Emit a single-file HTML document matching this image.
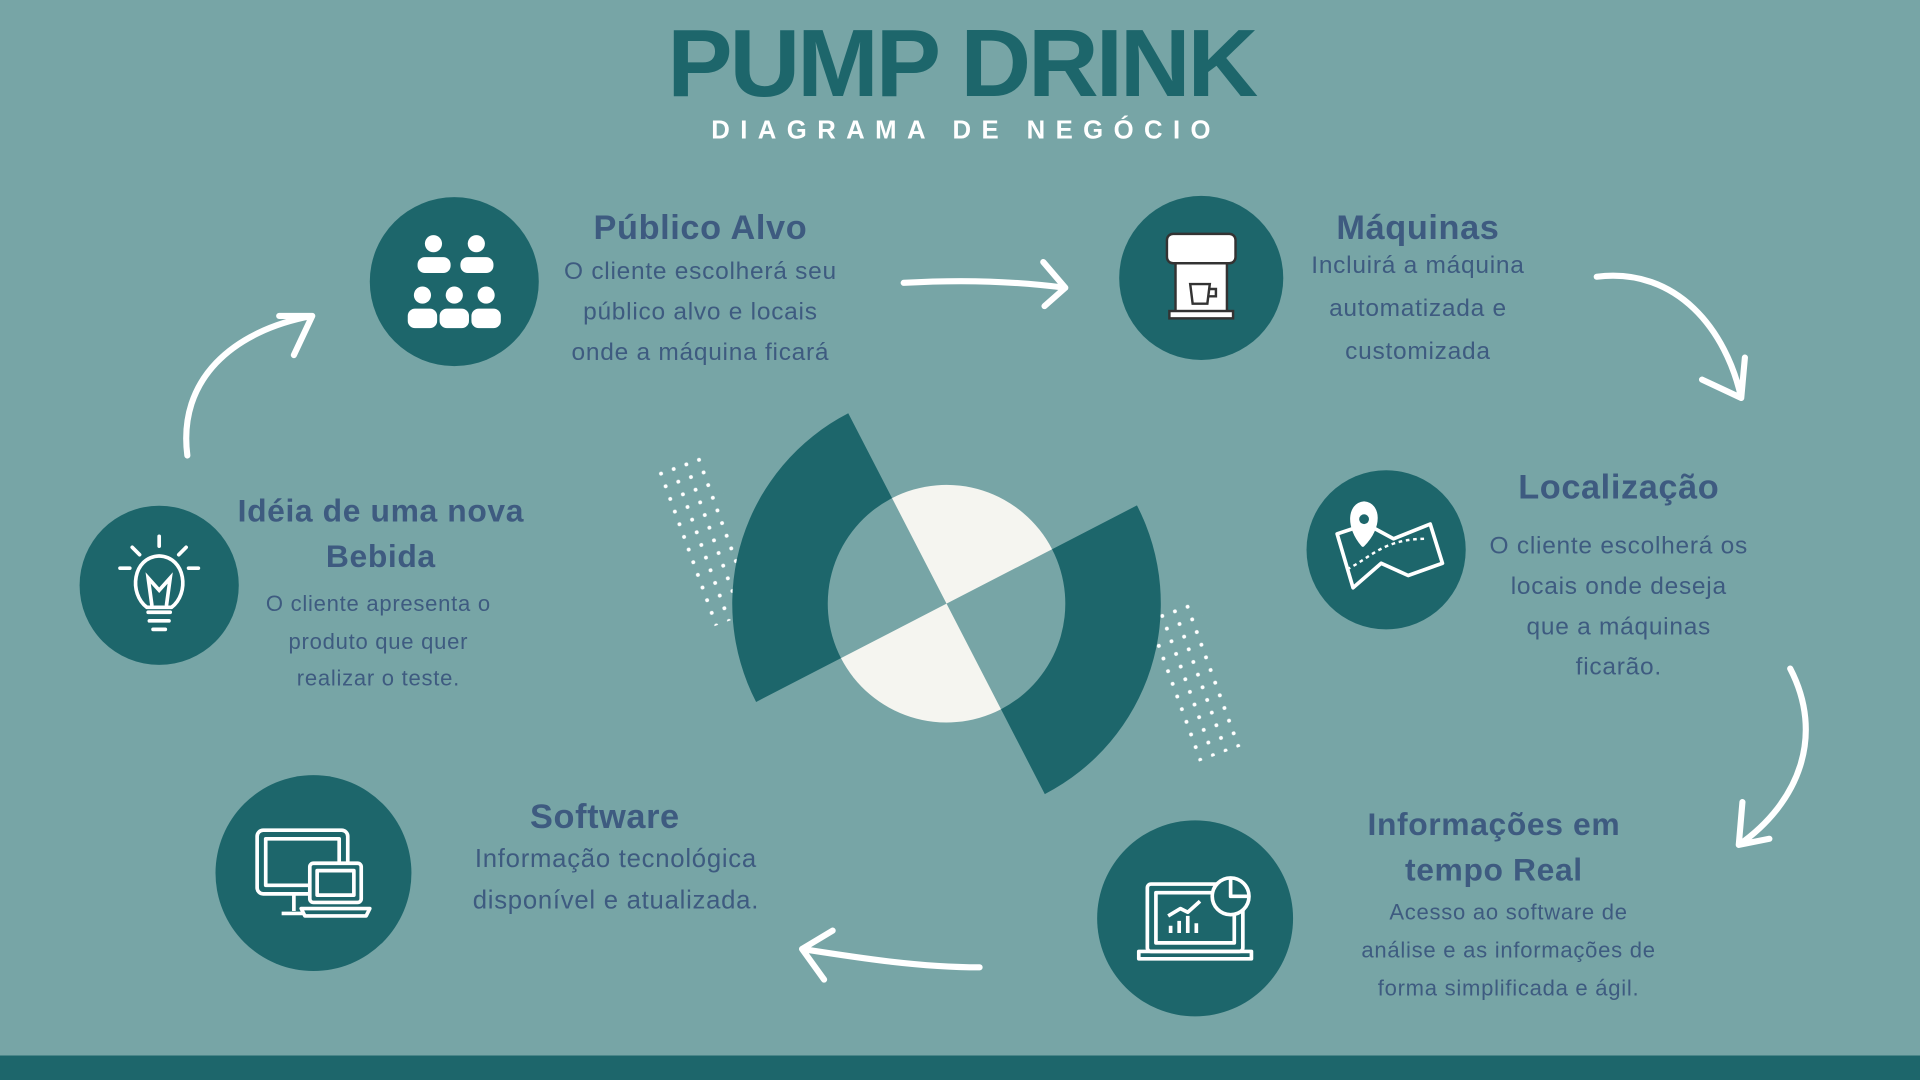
<!DOCTYPE html>
<html><head><meta charset="utf-8"><style>
html,body{margin:0;padding:0;width:1920px;height:1080px;overflow:hidden;background:#77a5a6}
#wrap{position:absolute;left:0;top:0;width:1568px;height:882px;transform:scale(1.22449);transform-origin:0 0;font-family:"Liberation Sans",sans-serif}
.t{position:absolute;text-align:center;color:#3e5b80;white-space:nowrap}
.h{font-weight:bold;font-size:28px;letter-spacing:0.5px}
.b{font-size:20px;letter-spacing:0.6px}
</style></head><body>
<div id="wrap">
<svg width="1568" height="882" style="position:absolute;left:0;top:0">
<defs>
<pattern id="dots" width="11" height="11" patternUnits="userSpaceOnUse"><circle cx="3" cy="3" r="1.6" fill="#fff"/></pattern>
</defs>
<rect x="0" y="862" width="1568" height="20" fill="#1d666b"/>
<g transform="translate(536,385) rotate(-20)"><rect x="0" y="0" width="45" height="135" fill="url(#dots)"/></g>
<g transform="translate(935,505) rotate(-20)"><rect x="0" y="0" width="45" height="125" fill="url(#dots)"/></g>
<g transform="translate(773,493) rotate(-27.3)">
<path d="M-175 0 A175 175 0 0 1 0 -175 L0 -97 A97 97 0 0 0 -97 0 Z" fill="#1d666b"/>
<path d="M175 0 A175 175 0 0 1 0 175 L0 97 A97 97 0 0 0 97 0 Z" fill="#1d666b"/>
<path d="M0 0 L0 -97 A97 97 0 0 1 97 0 Z" fill="#f5f5f0"/>
<path d="M0 0 L0 97 A97 97 0 0 1 -97 0 Z" fill="#f5f5f0"/>
</g>
<g fill="none" stroke="#fff" stroke-width="5" stroke-linecap="round" stroke-linejoin="round">
<path d="M153 372 C145 310 190 270 255 258 M228 258 L255 258 L240 290"/>
<path d="M738 231 C790 228 830 230 870 235 M852 214 L870 235 L853 250"/>
<path d="M1304 226 C1370 218 1410 270 1422 325 M1390 310 L1422 325 L1425 292"/>
<path d="M1462 546 C1490 600 1470 655 1420 690 M1423 655 L1420 690 L1445 685"/>
<path d="M800 790 C750 790 700 782 655 775 M680 760 L655 775 L673 800"/>
</g>
<g fill="#1d666b">
<circle cx="371" cy="230" r="69"/>
<circle cx="981" cy="227" r="67"/>
<circle cx="1132" cy="449" r="65"/>
<circle cx="130" cy="478" r="65"/>
<circle cx="256" cy="713" r="80"/>
<circle cx="976" cy="750" r="80"/>
</g>
<g fill="#fff">
<circle cx="354" cy="199" r="7"/><circle cx="389" cy="199" r="7"/>
<rect x="341" y="210" width="27" height="13" rx="6"/><rect x="376" y="210" width="27" height="13" rx="6"/>
<circle cx="345" cy="241" r="7"/><circle cx="371" cy="241" r="7"/><circle cx="397" cy="241" r="7"/>
<rect x="333" y="252" width="24" height="16" rx="6"/><rect x="359" y="252" width="24" height="16" rx="6"/><rect x="385" y="252" width="24" height="16" rx="6"/>
</g>
<g stroke="#333" stroke-width="2" fill="#fff">
<rect x="953" y="191" width="56" height="24" rx="5"/>
<rect x="960" y="215" width="42" height="40"/>
<rect x="955" y="254" width="52" height="6"/>
<path d="M972 232 h16 l-2 16 h-12 z M988 236 h5 v6 h-6" fill="none"/>
</g>
<g fill="none" stroke="#fff" stroke-width="3" stroke-linejoin="round">
<path d="M1092 436 L1116 428 L1138 440 L1168 428 L1178 460 L1150 470 L1128 460 L1105 480 Z"/>
<path d="M1113 445 C1100 430 1102 412 1114 411 C1126 412 1128 430 1113 445 Z" fill="#fff"/>
<circle cx="1114" cy="424" r="4" fill="#1d666b" stroke="none"/>
<path d="M1100 465 C1120 455 1130 440 1165 440" stroke-dasharray="3 3" stroke-width="2"/>
</g>
<g fill="none" stroke="#fff" stroke-width="3" stroke-linecap="round">
<path d="M120 496 C105 485 108 455 130 454 C152 455 155 485 140 496 Z"/>
<path d="M121 500 h18 M122 507 h16 M125 514 h10"/>
<path d="M130 438 v8 M108 447 l6 6 M152 447 l-6 6 M98 464 h8 M154 464 h8"/>
<path d="M124 494 l-3 -22 l9 10 l9 -10 l-3 22"/>
</g>
<g fill="none" stroke="#fff" stroke-width="3" stroke-linejoin="round">
<rect x="210" y="678" width="74" height="52" rx="5"/><rect x="217" y="685" width="60" height="38"/>
<path d="M240 730 v14 M230 746 h22"/>
<rect x="253" y="705" width="42" height="32" rx="3" fill="#1d666b"/><rect x="259" y="711" width="30" height="20"/>
<path d="M246 742 h56 l-3 6 h-50 z" fill="#1d666b"/>
</g>
<g fill="none" stroke="#fff" stroke-width="3" stroke-linejoin="round">
<rect x="937" y="722" width="78" height="55" rx="3"/><rect x="944" y="729" width="64" height="41"/>
<path d="M930 777 h92 v6 h-92 z"/>
<path d="M956 762 v-6 M963 762 v-10 M970 762 v-14 M977 762 v-8 M954 748 l10 -6 l6 3 l10 -9"/>
<circle cx="1005" cy="732" r="15" fill="#1d666b"/><path d="M1005 717 v15 h15"/>
</g>
</svg>
<div class="t" style="left:0;width:1570px;top:6px;font-size:80px;font-weight:900;color:#1d666b;letter-spacing:-2.5px;transform:scaleY(0.98)">PUMP DRINK</div>
<div class="t" style="left:0;width:1578px;top:95px;font-size:21px;font-weight:bold;color:#fff;letter-spacing:8.5px">DIAGRAMA DE NEGÓCIO</div>

<div class="t h" style="left:422px;width:300px;top:170px">Público Alvo</div>
<div class="t b" style="left:422px;width:300px;top:206px;line-height:33px">O cliente escolherá seu<br>público alvo e locais<br>onde a máquina ficará</div>

<div class="t h" style="left:1008px;width:300px;top:170px">Máquinas</div>
<div class="t b" style="left:1008px;width:300px;top:200px;line-height:35px">Incluirá a máquina<br>automatizada e<br>customizada</div>

<div class="t h" style="left:1172px;width:300px;top:382px">Localização</div>
<div class="t b" style="left:1172px;width:300px;top:430px;line-height:33px">O cliente escolherá os<br>locais onde deseja<br>que a máquinas<br>ficarão.</div>

<div class="t h" style="left:161px;width:300px;top:399px;font-size:26px;line-height:37px">Idéia de uma nova<br>Bebida</div>
<div class="t b" style="left:159px;width:300px;top:478px;font-size:18px;line-height:30.5px">O cliente apresenta o<br>produto que quer<br>realizar o teste.</div>

<div class="t h" style="left:344px;width:300px;top:651px">Software</div>
<div class="t b" style="left:353px;width:300px;top:685px;font-size:21px;line-height:34px">Informação tecnológica<br>disponível e atualizada.</div>

<div class="t h" style="left:1070px;width:300px;top:655px;font-size:26px;line-height:37px">Informações em<br>tempo Real</div>
<div class="t b" style="left:1082px;width:300px;top:730px;font-size:18px;line-height:31px">Acesso ao software de<br>análise e as informações de<br>forma simplificada e ágil.</div>
</div>
</body></html>
